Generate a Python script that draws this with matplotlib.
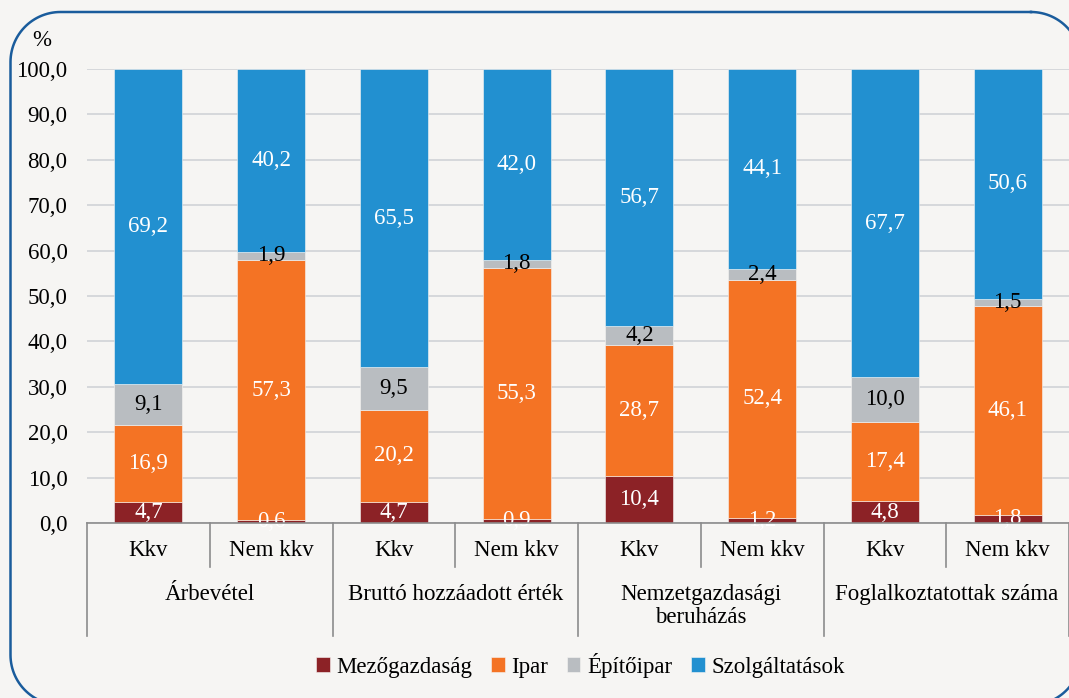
import numpy as np
import matplotlib
matplotlib.use('Agg')
import matplotlib.pyplot as plt
from matplotlib.lines import Line2D

# data
groups = ['Árbevétel', 'Bruttó hozzáadott érték', 'Nemzetgazdasági\nberuházás', 'Foglalkoztatottak száma']
sizes = ['Kkv', 'Nem kkv'] * 4
series_names = ['Mezőgazdaság', 'Ipar', 'Építőipar', 'Szolgáltatások']
mezogazdasag = [4.7, 0.6, 4.7, 0.9, 10.4, 1.2, 4.8, 1.8]
ipar = [16.9, 57.3, 20.2, 55.3, 28.7, 52.4, 17.4, 46.1]
epitoipar = [9.1, 1.9, 9.5, 1.8, 4.2, 2.4, 10.0, 1.5]
szolgaltatasok = [69.2, 40.2, 65.5, 42.0, 56.7, 44.1, 67.7, 50.6]
yticks = [0, 10, 20, 30, 40, 50, 60, 70, 80, 90, 100]

colors = ['#8c2226', '#f47324', '#b9bdc1', '#2290d0']
label_colors = ['white', 'white', 'black', 'white']
bg = '#f6f5f3'
fs = 16.5
W, H = 1069, 698

plt.rcParams['font.family'] = ['Liberation Serif', 'DejaVu Serif']

fig = plt.figure(figsize=(W / 100, H / 100), dpi=100, facecolor=bg)
ax = fig.add_axes([87 / W, 1 - 523 / H, (W - 87) / W, (523 - 69) / H])
ax.set_facecolor(bg)


def rounded_frame(x0, y0, x1, y1, r, n=30):
    # pixel box (top-left origin) -> figure fraction outline
    pts = []
    corners = [(x1 - r, y0 + r, -90, 0), (x1 - r, y1 - r, 0, 90),
               (x0 + r, y1 - r, 90, 180), (x0 + r, y0 + r, 180, 270)]
    for cx, cy, a0, a1 in corners:
        t = np.radians(np.linspace(a0, a1, n))
        pts.extend(zip(cx + r * np.cos(t), cy + r * np.sin(t)))
    pts.append(pts[0])
    pts = np.array(pts)
    return pts[:, 0] / W, 1 - pts[:, 1] / H


fx, fy = rounded_frame(10.5, 12, 1081, 705, 50)
fig.add_artist(Line2D(fx, fy, transform=fig.transFigure, color='#1a5c9c', linewidth=1.8))

x = np.arange(len(sizes))
bottom = np.zeros(len(sizes))
all_series = [mezogazdasag, ipar, epitoipar, szolgaltatasok]
for vals, name, col, tcol in zip(all_series, series_names, colors, label_colors):
    vals = np.array(vals)
    ax.bar(x, vals, width=0.555, bottom=bottom, color=col, label=name,
           edgecolor=bg, linewidth=0.4, zorder=3)
    for xi, b, v in zip(x, bottom, vals):
        ax.text(xi, b + v / 2, '{:.1f}'.format(v).replace('.', ','),
                ha='center', va='center', color=tcol, fontsize=fs, zorder=4)
    bottom += vals

ax.set_xlim(-0.5, len(sizes) - 0.5)
ax.set_ylim(0, 100)
ax.set_yticks(yticks)
ax.set_yticklabels(['{:.1f}'.format(v).replace('.', ',') for v in yticks], fontsize=fs)
ax.tick_params(axis='y', length=0, pad=14)
ax.tick_params(axis='x', length=0, labelbottom=False)
ax.grid(axis='y', color='#d0d3d7', linewidth=1.2, zorder=0)
for side in ['top', 'right', 'left']:
    ax.spines[side].set_visible(False)
ax.spines['bottom'].set_color('#8c8c8c')
ax.spines['bottom'].set_linewidth(1.2)
ax.spines['bottom'].set_zorder(5)

# hierarchical category axis
tr = ax.get_xaxis_transform()
h_px = 523 - 69
short = -44 / h_px
long = -113 / h_px
for i in range(len(sizes) + 1):
    pos = i - 0.5
    y_end = long if i % 2 == 0 else short
    ax.plot([pos, pos], [0, y_end], transform=tr, color='#8c8c8c', linewidth=1.2, clip_on=False)
for xi, s in zip(x, sizes):
    ax.text(xi, -28 / h_px, s, transform=tr, ha='center', va='center', fontsize=fs)
for gi, g in enumerate(groups):
    ax.text(2 * gi + 0.5, -61 / h_px, g, transform=tr, ha='center', va='top',
            fontsize=fs, linespacing=1.15)

fig.text(42 / W, 1 - 40 / H, '%', ha='center', va='center', fontsize=fs)

fig.legend(loc='center', bbox_to_anchor=(0.543, 1 - 665 / H), ncol=4, frameon=False,
           fontsize=fs, handlelength=0.6, handleheight=0.6, handletextpad=0.3,
           columnspacing=0.8)

fig.savefig('out.png', dpi=100, facecolor=bg)
